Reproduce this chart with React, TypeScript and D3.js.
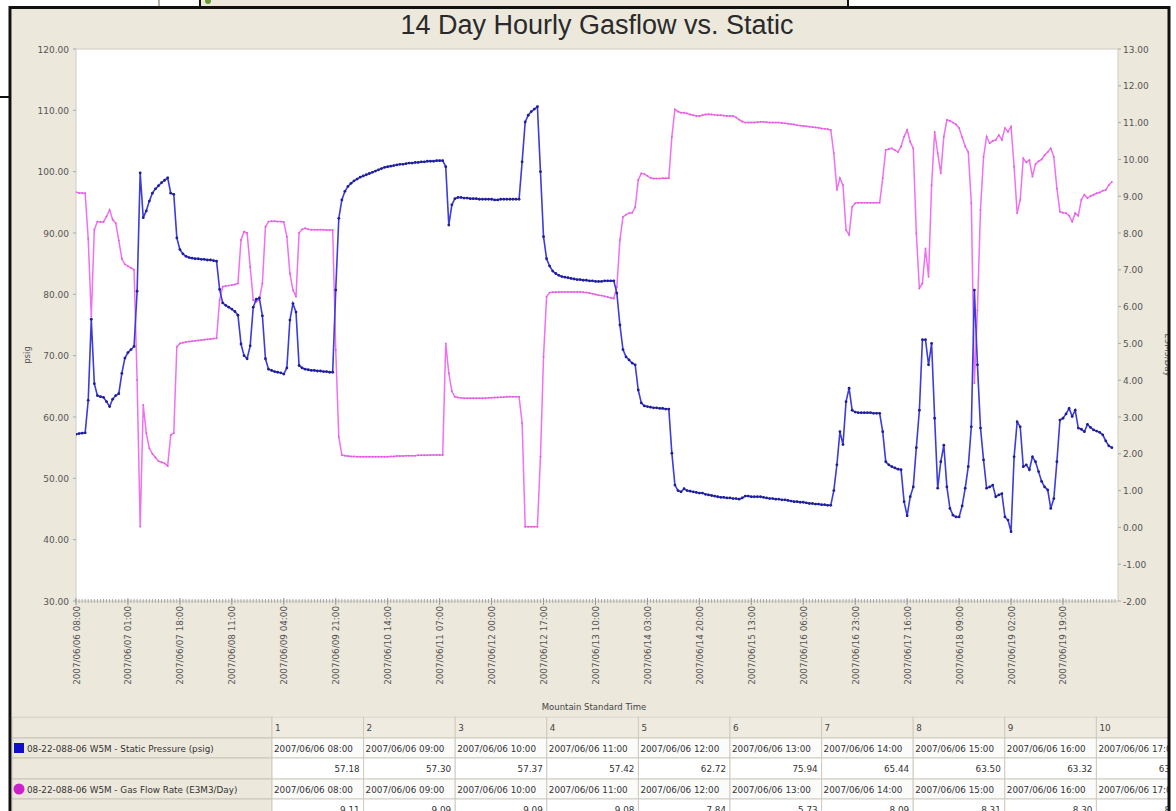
import { useRef, useEffect } from "react";
import * as d3 from "d3";

// hourly readings, starting 2007/06/06 08:00
const STATIC_PSIG = [
  57.18, 57.3, 57.37, 57.42, 62.72, 75.94, 65.44, 63.5, 63.32, 63.2,
  62.5, 61.7, 62.9, 63.5, 63.8, 67.1, 69.6, 70.5, 71.0, 71.5,
  80.5, 99.8, 92.5, 93.6, 95.2, 96.5, 97.2, 97.7, 98.2, 98.6,
  99.0, 96.5, 96.3, 89.2, 87.3, 86.6, 86.2, 86.0, 85.9, 85.8,
  85.8, 85.7, 85.7, 85.6, 85.6, 85.5, 85.4, 80.8, 78.6, 78.2,
  77.9, 77.6, 77.2, 76.6, 71.9, 70.0, 69.5, 71.6, 77.9, 79.2,
  79.4, 76.5, 69.5, 67.8, 67.6, 67.4, 67.3, 67.2, 67.0, 68.0,
  75.8, 78.5, 77.1, 68.4, 68.0, 67.8, 67.7, 67.6, 67.6, 67.5,
  67.5, 67.4, 67.4, 67.3, 67.3, 80.7, 92.4, 95.4, 96.8, 97.6,
  98.1, 98.5, 98.8, 99.1, 99.3, 99.5, 99.7, 99.9, 100.1, 100.3,
  100.5, 100.7, 100.8, 100.9, 101.0, 101.1, 101.2, 101.2, 101.3, 101.4,
  101.4, 101.5, 101.5, 101.6, 101.6, 101.7, 101.7, 101.7, 101.8, 101.8,
  101.8, 100.8, 91.3, 94.6, 95.6, 95.8, 95.8, 95.7, 95.7, 95.6,
  95.6, 95.6, 95.5, 95.5, 95.5, 95.5, 95.5, 95.4, 95.4, 95.5,
  95.5, 95.5, 95.5, 95.5, 95.5, 95.5, 101.6, 108.1, 109.2, 109.8,
  110.2, 110.6, 100.0, 89.4, 85.8, 84.6, 83.8, 83.4, 83.1, 82.9,
  82.8, 82.7, 82.6, 82.5, 82.4, 82.4, 82.3, 82.3, 82.2, 82.2,
  82.1, 82.1, 82.1, 82.2, 82.2, 82.2, 82.2, 80.2, 75.0, 71.0,
  69.8, 69.3, 68.8, 68.5, 64.4, 62.3, 61.8, 61.7, 61.6, 61.5,
  61.5, 61.4, 61.4, 61.3, 61.3, 54.1, 48.9, 48.0, 47.8, 48.3,
  48.0, 47.9, 47.8, 47.7, 47.6, 47.6, 47.4, 47.3, 47.2, 47.1,
  47.0, 46.9, 46.9, 46.8, 46.8, 46.7, 46.7, 46.6, 46.8, 47.1,
  47.1, 47.0, 47.0, 47.0, 47.0, 46.9, 46.8, 46.7, 46.7, 46.6,
  46.6, 46.5, 46.5, 46.4, 46.3, 46.2, 46.2, 46.1, 46.1, 46.0,
  45.9, 45.9, 45.8, 45.8, 45.7, 45.7, 45.6, 45.6, 48.0, 52.2,
  57.6, 55.5, 62.5, 64.7, 61.1, 60.8, 60.7, 60.7, 60.7, 60.7,
  60.7, 60.6, 60.6, 60.6, 57.6, 52.7, 52.2, 51.9, 51.7, 51.5,
  51.4, 46.2, 43.9, 47.0, 48.6, 55.0, 61.1, 72.6, 72.6, 68.5,
  72.0, 59.8, 48.4, 52.7, 55.4, 48.6, 45.1, 44.0, 43.7, 43.7,
  45.5, 48.4, 51.9, 58.4, 80.7, 68.5, 58.2, 53.0, 48.4, 48.6,
  48.9, 47.0, 47.3, 47.5, 43.7, 43.2, 41.3, 53.5, 59.2, 58.4,
  51.9, 52.2, 51.4, 53.5, 52.7, 51.1, 49.5, 48.6, 48.1, 45.1,
  46.7, 52.7, 59.5, 59.8, 60.5, 61.4, 60.1, 61.1, 58.2, 58.0,
  57.6, 58.8, 58.3, 57.9, 57.7, 57.5, 57.1, 56.1, 55.3, 55.0,
];

const GAS_FLOW = [
  9.11, 9.09, 9.09, 9.08, 7.84, 5.73, 8.09, 8.31, 8.3, 8.3,
  8.45, 8.63, 8.36, 8.27, 7.8, 7.3, 7.15, 7.1, 7.05, 7.0,
  4.0, 0.02, 3.33, 2.56, 2.15, 2.0, 1.9, 1.8, 1.77, 1.74,
  1.67, 2.51, 2.56, 4.91, 5.0, 5.02, 5.04, 5.05, 5.06, 5.07,
  5.08, 5.09, 5.1, 5.11, 5.12, 5.13, 5.14, 6.18, 6.54, 6.56,
  6.57, 6.59, 6.6, 6.63, 7.81, 8.04, 8.0, 7.08, 6.18, 6.13,
  6.2, 6.63, 8.17, 8.31, 8.32, 8.32, 8.31, 8.31, 8.3, 7.9,
  6.9, 6.45, 6.27, 8.0, 8.1, 8.13, 8.1, 8.09, 8.09, 8.09,
  8.09, 8.09, 8.08, 8.08, 8.08, 4.82, 2.46, 1.97, 1.95, 1.94,
  1.93, 1.93, 1.92, 1.92, 1.92, 1.92, 1.92, 1.92, 1.92, 1.92,
  1.92, 1.92, 1.92, 1.93, 1.93, 1.94, 1.94, 1.94, 1.95, 1.95,
  1.95, 1.95, 1.96, 1.96, 1.96, 1.96, 1.97, 1.97, 1.97, 1.97,
  1.97, 5.0, 4.19, 3.7, 3.55, 3.53, 3.52, 3.51, 3.51, 3.51,
  3.51, 3.51, 3.51, 3.51, 3.51, 3.52, 3.52, 3.53, 3.53, 3.54,
  3.54, 3.55, 3.55, 3.55, 3.55, 3.55, 2.83, 0.02, 0.02, 0.02,
  0.02, 0.02, 1.92, 4.64, 6.27, 6.38, 6.39, 6.39, 6.4, 6.4,
  6.4, 6.4, 6.4, 6.4, 6.4, 6.4, 6.39, 6.38, 6.37, 6.35,
  6.33, 6.31, 6.3, 6.28, 6.26, 6.24, 6.22, 6.54, 7.81, 8.44,
  8.5, 8.54, 8.55, 8.7, 9.44, 9.62, 9.6, 9.55, 9.5, 9.48,
  9.48, 9.48, 9.49, 9.49, 9.49, 10.62, 11.36, 11.3, 11.27, 11.27,
  11.25, 11.22, 11.2, 11.18, 11.18, 11.2, 11.22, 11.23, 11.22, 11.21,
  11.2, 11.2, 11.19, 11.18, 11.18, 11.18, 11.14, 11.08, 11.03, 11.0,
  11.0, 11.0, 11.0, 11.01, 11.02, 11.02, 11.01, 11.0, 11.0, 11.0,
  11.0, 10.99, 10.98, 10.97, 10.96, 10.95, 10.93, 10.92, 10.91, 10.9,
  10.89, 10.88, 10.87, 10.86, 10.84, 10.83, 10.82, 10.8, 10.17, 9.17,
  9.49, 9.3, 8.08, 7.95, 8.71, 8.81, 8.82, 8.82, 8.82, 8.82,
  8.82, 8.82, 8.82, 8.82, 9.49, 10.26, 10.28, 10.3, 10.25, 10.2,
  10.35, 10.62, 10.8, 10.48, 10.3, 7.99, 6.5, 6.63, 7.58, 6.81,
  9.3, 10.75, 10.17, 9.62, 10.62, 11.07, 11.05, 11.0, 10.95, 10.85,
  10.6, 10.35, 10.2, 8.81, 3.92, 5.9, 8.63, 10.07, 10.62, 10.44,
  10.5, 10.53, 10.66, 10.53, 10.85, 10.75, 10.89, 9.8, 8.54, 8.9,
  10.03, 9.92, 9.98, 9.53, 9.87, 9.95, 10.0, 10.12, 10.2, 10.3,
  10.07, 9.21, 8.58, 8.55, 8.54, 8.47, 8.31, 8.54, 8.47, 8.9,
  9.04, 8.95, 9.0, 9.04, 9.08, 9.1, 9.15, 9.17, 9.3, 9.39,
];

const X_LABELS = [
  "2007/06/06 08:00", "2007/06/07 01:00", "2007/06/07 18:00", "2007/06/08 11:00",
  "2007/06/09 04:00", "2007/06/09 21:00", "2007/06/10 14:00", "2007/06/11 07:00",
  "2007/06/12 00:00", "2007/06/12 17:00", "2007/06/13 10:00", "2007/06/14 03:00",
  "2007/06/14 20:00", "2007/06/15 13:00", "2007/06/16 06:00", "2007/06/16 23:00",
  "2007/06/17 16:00", "2007/06/18 09:00", "2007/06/19 02:00", "2007/06/19 19:00",
];
const LEFT_TICKS = [30, 40, 50, 60, 70, 80, 90, 100, 110, 120];
const RIGHT_TICKS = [-2, -1, 0, 1, 2, 3, 4, 5, 6, 7, 8, 9, 10, 11, 12, 13];
const SERIES_NAMES = [
  "08-22-088-06 W5M - Static Pressure (psig)",
  "08-22-088-06 W5M - Gas Flow Rate (E3M3/Day)",
];
const TABLE_COLUMNS = 10;

const W = 1176;
const H = 811;
const P = { left: 76, top: 49, right: 1118, bottom: 601 };
const TITLE_FONT = "'Liberation Sans', Arial, sans-serif";
const FONT = "'DejaVu Sans', Verdana, sans-serif";
const TAN = "#ece8dc";
const BLUE = "#3c3cdc";
const PINK = "#f070f0";

export default function App() {
  const svgRef = useRef<SVGSVGElement>(null);

  useEffect(() => {
    const svg = d3.select(svgRef.current);
    svg.selectAll("*").remove();

    const parse = d3.timeParse("%Y/%m/%d %H:%M");
    const fmt = d3.timeFormat("%Y/%m/%d %H:%M");
    const start = parse(X_LABELS[0]) as Date;
    const end = d3.timeHour.offset(start, 341);

    const x = d3.scaleTime().domain([start, end]).range([P.left, P.right]);
    const yL = d3.scaleLinear().domain([30, 120]).range([P.bottom, P.top]);
    const yR = d3.scaleLinear().domain([-2, 13]).range([P.bottom, P.top]);

    // page + window chrome
    svg.append("rect").attr("width", W).attr("height", H).attr("fill", "#fff");
    svg.append("line").attr("x1", 159).attr("x2", 159).attr("y1", 0).attr("y2", 7)
      .attr("stroke", "#b8b2a4").attr("stroke-width", 2);
    svg.append("rect").attr("x", 200).attr("y", -4).attr("width", 648).attr("height", 11)
      .attr("fill", TAN).attr("stroke", "#111").attr("stroke-width", 2);
    svg.append("circle").attr("cx", 208).attr("cy", 1).attr("r", 3).attr("fill", "#6a9a3a");
    svg.append("line").attr("x1", 0).attr("x2", 11).attr("y1", 97).attr("y2", 97)
      .attr("stroke", "#111").attr("stroke-width", 2);

    const defs = svg.append("defs");
    defs.append("clipPath").attr("id", "frameClip")
      .append("rect").attr("x", 12).attr("y", 9).attr("width", 1156).attr("height", 810);
    defs.append("clipPath").attr("id", "plotClip")
      .append("rect").attr("x", P.left).attr("y", P.top)
      .attr("width", P.right - P.left).attr("height", P.bottom - P.top);

    const frame = svg.append("g").attr("clip-path", "url(#frameClip)");
    frame.append("rect").attr("x", 10).attr("y", 7).attr("width", 1160).attr("height", 820).attr("fill", TAN);

    // title
    frame.append("text").attr("x", 597).attr("y", 34).attr("text-anchor", "middle")
      .attr("font-family", TITLE_FONT).attr("font-size", 27).attr("fill", "#2a2a2a")
      .text("14 Day Hourly Gasflow vs. Static");

    // plot background
    frame.append("rect").attr("x", P.left).attr("y", P.top)
      .attr("width", P.right - P.left).attr("height", P.bottom - P.top)
      .attr("fill", "#fff").attr("stroke", "#d0ccc0");

    // left axis
    const left = frame.append("g").attr("font-family", FONT).attr("font-size", 9).attr("fill", "#555");
    left.selectAll("text").data(LEFT_TICKS).join("text")
      .attr("x", 69).attr("y", (d) => yL(d) + 3.5).attr("text-anchor", "end")
      .text((d) => d.toFixed(2));
    frame.append("g").selectAll("line").data(LEFT_TICKS).join("line")
      .attr("x1", P.left - 3).attr("x2", P.left).attr("y1", (d) => yL(d)).attr("y2", (d) => yL(d))
      .attr("stroke", "#aaa");
    frame.append("text").attr("transform", `translate(30,355) rotate(-90)`)
      .attr("text-anchor", "middle").attr("font-family", FONT).attr("font-size", 8.5).attr("fill", "#555")
      .text("psig");

    // right axis
    const right = frame.append("g").attr("font-family", FONT).attr("font-size", 9).attr("fill", "#555");
    right.selectAll("text").data(RIGHT_TICKS).join("text")
      .attr("x", P.right + 5).attr("y", (d) => yR(d) + 3.5)
      .text((d) => d.toFixed(2));
    frame.append("g").selectAll("line").data(RIGHT_TICKS).join("line")
      .attr("x1", P.right).attr("x2", P.right + 3).attr("y1", (d) => yR(d)).attr("y2", (d) => yR(d))
      .attr("stroke", "#aaa");
    frame.append("text").attr("transform", `translate(1165,355) rotate(90)`)
      .attr("text-anchor", "middle").attr("font-family", FONT).attr("font-size", 8.5).attr("fill", "#555")
      .text("E3M3/Day");

    // bottom axis: major ticks every 17 h, minor ticks in between
    const majors = X_LABELS.map((s) => parse(s) as Date);
    const minors = d3.timeMinute.every(255)!.range(start, end);
    frame.append("g").selectAll("line").data(minors).join("line")
      .attr("x1", (d) => x(d)).attr("x2", (d) => x(d))
      .attr("y1", P.bottom - 2).attr("y2", P.bottom + 2).attr("stroke", "#aaa");
    frame.append("g").selectAll("line").data(majors).join("line")
      .attr("x1", (d) => x(d)).attr("x2", (d) => x(d))
      .attr("y1", P.bottom - 3).attr("y2", P.bottom + 4).attr("stroke", "#999");
    frame.append("g").selectAll("text").data(majors).join("text")
      .attr("transform", (d) => `translate(${x(d) + 3.5},${P.bottom + 5}) rotate(-90)`)
      .attr("text-anchor", "end").attr("font-family", FONT).attr("font-size", 8.8).attr("fill", "#555")
      .text((d) => fmt(d));
    frame.append("text").attr("x", 594).attr("y", 710).attr("text-anchor", "middle")
      .attr("font-family", FONT).attr("font-size", 8.5).attr("fill", "#444")
      .text("Mountain Standard Time");

    // series
    const plot = frame.append("g").attr("clip-path", "url(#plotClip)");
    const t = (i: number) => d3.timeHour.offset(start, i);

    const gasLine = d3.line<number>().x((_, i) => x(t(i))).y((d) => yR(d));
    plot.append("path").datum(GAS_FLOW).attr("fill", "none").attr("stroke", PINK)
      .attr("stroke-width", 1.5).attr("d", gasLine);
    plot.append("g").selectAll("circle").data(GAS_FLOW).join("circle")
      .attr("cx", (_, i) => x(t(i))).attr("cy", (d) => yR(d)).attr("r", 0.9).attr("fill", "#dc5edc");

    const staticLine = d3.line<number>().x((_, i) => x(t(i))).y((d) => yL(d));
    plot.append("path").datum(STATIC_PSIG).attr("fill", "none").attr("stroke", BLUE)
      .attr("stroke-width", 1.6).attr("d", staticLine);
    plot.append("g").selectAll("circle").data(STATIC_PSIG).join("circle")
      .attr("cx", (_, i) => x(t(i))).attr("cy", (d) => yL(d)).attr("r", 1.4).attr("fill", "#1e1e96");

    // data table
    const rowY = [717, 738, 758, 779, 799, 820];
    const colX = d3.scaleLinear().domain([0, 1]).range([272, 363.6]);
    const table = frame.append("g").attr("font-family", FONT).attr("font-size", 8.8);
    table.append("rect").attr("x", 12).attr("y", 716).attr("width", 1160).attr("height", 100).attr("fill", "#fff");
    const cols = d3.range(TABLE_COLUMNS);

    for (let r = 0; r < 5; r++) {
      const y0 = rowY[r];
      const h = rowY[r + 1] - y0;
      table.append("rect").attr("x", 12).attr("y", y0).attr("width", 260).attr("height", h)
        .attr("fill", TAN).attr("stroke", "#c8c4b8");
      table.append("g").selectAll("rect").data(cols).join("rect")
        .attr("x", (c) => colX(c)).attr("y", y0).attr("width", colX(1) - colX(0)).attr("height", h)
        .attr("fill", r === 0 ? "#efebe1" : r % 2 === 1 ? "#fbfbfa" : "#fff")
        .attr("stroke", "#cfcbc0");
    }
    // header numbers
    table.append("g").selectAll("text").data(cols).join("text")
      .attr("x", (c) => colX(c) + 3).attr("y", rowY[0] + 14).attr("fill", "#444")
      .text((c) => String(c + 1));

    const series = [
      { name: SERIES_NAMES[0], values: STATIC_PSIG, row: 1, color: "#1010c8", square: true },
      { name: SERIES_NAMES[1], values: GAS_FLOW, row: 3, color: "#cc22cc", square: false },
    ];
    for (const s of series) {
      const y0 = rowY[s.row];
      if (s.square) {
        table.append("rect").attr("x", 14).attr("y", y0 + 5).attr("width", 10).attr("height", 10).attr("fill", s.color);
      } else {
        table.append("circle").attr("cx", 19).attr("cy", y0 + 10).attr("r", 5.5).attr("fill", s.color);
      }
      table.append("text").attr("x", 27).attr("y", y0 + 14).attr("fill", "#333").text(s.name);
      table.append("g").selectAll("text").data(cols).join("text")
        .attr("x", (c) => colX(c) + 2).attr("y", y0 + 14).attr("fill", "#333")
        .text((c) => fmt(t(c)));
      table.append("g").selectAll("text").data(cols).join("text")
        .attr("x", (c) => colX(c + 1) - 4).attr("y", rowY[s.row + 1] + 14).attr("text-anchor", "end")
        .attr("fill", "#333")
        .text((c) => s.values[c].toFixed(2));
    }

    // frame border
    svg.append("rect").attr("x", 10).attr("y", 7.5).attr("width", 1159).attr("height", 812)
      .attr("fill", "none").attr("stroke", "#111").attr("stroke-width", 3);
  }, []);

  return (
    <div style={{ position: "absolute", left: 0, top: 0 }}>
      <svg ref={svgRef} width={W} height={H} style={{ display: "block" }} />
    </div>
  );
}
